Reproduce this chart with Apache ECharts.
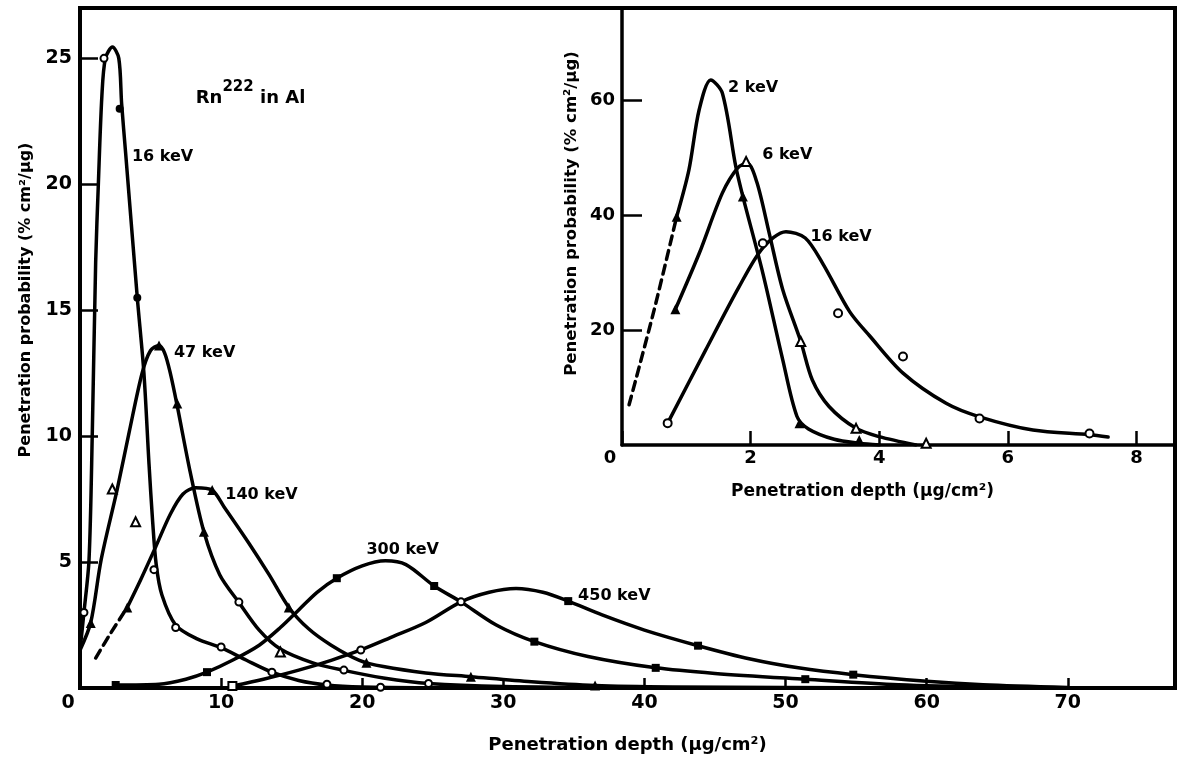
<!DOCTYPE html>
<html><head><meta charset="utf-8">
<script src="https://cdn.jsdelivr.net/npm/echarts@6/dist/echarts.min.js"></script>
<style>html,body{margin:0;padding:0;background:#fff}#c{width:1181px;height:768px}</style>
</head><body><div id="c"></div>
<script>
// ---------- MAIN PLOT (Rn222 in Al) : [depth µg/cm², probability %cm²/µg] ----------
const curve16 = [[0,1.5],[0.28,3.0],[0.64,5.1],[0.87,10.1],[1.11,16.9],[1.3,20.0],[1.55,23.5],[1.8,25.0],[2.3,25.45],[2.75,25.0],[2.95,23.2],[3.24,21.2],[4.06,15.5],[4.53,12.5],[4.89,8.9],[5.15,6.6],[5.4,4.9],[5.8,3.7],[6.78,2.5],[8.3,1.95],[10.0,1.6],[11.8,1.1],[13.6,0.63],[15.5,0.3],[17.5,0.12],[20,0.04],[25,0.01],[35,0]];
const curve47 = [[0,1.5],[0.76,2.6],[1.5,5.1],[2.64,7.9],[3.5,10.2],[4.4,12.5],[5.0,13.4],[5.6,13.6],[6.0,13.3],[6.4,12.5],[6.89,11.2],[7.8,8.6],[8.78,6.2],[9.9,4.5],[11.26,3.4],[12.7,2.3],[14.2,1.55],[16.5,1.0],[18.7,0.7],[21.5,0.4],[24.7,0.18],[30,0.06],[40,0.01],[50,0]];
const curve140Dashed = [[1.11,1.19],[2.2,2.2],[3.35,3.2]];
const curve140 = [[3.35,3.2],[4.3,4.3],[5.36,5.6],[6.4,6.9],[7.3,7.7],[8.2,7.95],[9.37,7.85],[10.2,7.2],[11.97,5.75],[13.4,4.5],[14.8,3.2],[16.2,2.35],[17.8,1.7],[19.8,1.1],[21.5,0.85],[24.5,0.6],[27.7,0.45],[32,0.25],[36.5,0.1],[42,0.04],[50,0.02],[60,0]];
const curve300 = [[2.53,0.12],[5.6,0.15],[7.5,0.35],[9.0,0.63],[10.8,1.1],[12.7,1.7],[14.2,2.4],[15.5,3.1],[16.8,3.8],[18.2,4.36],[20,4.85],[21.65,5.05],[23.1,4.9],[25.1,4.05],[27.0,3.42],[29.5,2.5],[32.2,1.84],[36,1.25],[40.8,0.8],[45,0.58],[51.4,0.35],[58,0.13],[65,0.03],[71,0]];
const curve450 = [[10.8,0.08],[13,0.35],[15.5,0.71],[17.8,1.1],[19.9,1.51],[22,2.0],[24.5,2.6],[27.0,3.42],[29,3.8],[30.9,3.95],[32.8,3.8],[34.6,3.45],[37,2.9],[40,2.3],[43.8,1.68],[47.5,1.15],[50.9,0.8],[54.8,0.53],[60,0.27],[64,0.13],[70,0.02]];

const mainFilledCircle = [[2.81,23.0],[4.06,15.5]];
const mainOpenCircle = [[0.28,3.0],[1.7,25.0],[5.24,4.7],[6.78,2.4],[10.0,1.63],[13.6,0.63],[17.5,0.15],[21.3,0.03],[11.26,3.41],[18.7,0.71],[24.7,0.18],[19.9,1.51],[27.0,3.42]];
const mainFilledTriangle = [[0.76,2.58],[5.6,13.6],[6.89,11.3],[8.78,6.2],[3.35,3.2],[9.37,7.86],[14.8,3.2],[20.3,1.0],[27.7,0.45],[36.5,0.1]];
const mainOpenTriangle = [[2.29,7.9],[3.94,6.6],[14.2,1.43]];
const mainFilledSquare = [[2.53,0.12],[9.0,0.63],[18.2,4.36],[25.1,4.05],[32.2,1.84],[40.8,0.8],[51.4,0.35],[34.6,3.45],[43.8,1.68],[54.8,0.53]];
const mainOpenSquare = [[10.8,0.08]];

const mainCurveLabels = [[3.68,21.1,'16 keV'],[6.66,13.3,'47 keV'],[10.3,7.66,'140 keV'],[20.3,5.48,'300 keV'],[35.3,3.65,'450 keV']];
const mainTitleLabel = [[8.2,23.6,'Rn|222|in Al']];

// ---------- INSET ----------
const inset2Dashed = [[0.11,7.0],[0.5,23.5],[0.85,39.7]];
const inset2 = [[0.85,39.7],[1.04,47.8],[1.2,58.3],[1.38,63.5],[1.56,61.2],[1.77,48.4],[1.88,43.2],[2.19,29.9],[2.5,14.8],[2.72,5.0],[2.9,2.8],[3.3,1.0],[3.69,0.3],[4.0,0]];
const inset6 = [[0.83,23.6],[1.2,33.3],[1.56,43.8],[1.8,48.2],[1.95,49.0],[2.1,45.6],[2.29,36.8],[2.5,27.0],[2.78,18.0],[2.96,11.3],[3.22,6.7],[3.64,2.9],[4.0,1.45],[4.57,0]];
const inset16 = [[0.71,3.8],[1.3,16.5],[1.82,27.5],[2.19,34.3],[2.55,37.1],[2.85,36.0],[3.12,31.6],[3.54,23.2],[3.85,19.0],[4.37,12.5],[5.04,7.25],[5.56,4.9],[6.39,2.6],[7.27,1.8],[7.56,1.4]];

const insetFilledTriangle = [[0.85,39.7],[1.88,43.2],[2.76,3.8],[3.69,0.87],[0.83,23.6]];
const insetOpenTriangle = [[1.93,49.3],[2.78,18.0],[3.64,2.9],[4.73,0.3]];
const insetOpenCircle = [[0.71,3.8],[2.19,35.1],[3.36,22.9],[4.37,15.4],[5.56,4.6],[7.27,2.0]];

const insetCurveLabels = [[1.65,62.1,'2 keV'],[2.18,50.4,'6 keV'],[2.93,36.2,'16 keV']];

const FONT = 'DejaVu Sans';
const BLACK = '#000';

function curve(data, axis, dashed) {
  return {
    type: 'line', data: data, xAxisIndex: axis, yAxisIndex: axis,
    showSymbol: false, smooth: 0.3, silent: true,
    lineStyle: { color: BLACK, width: 3.5, type: dashed ? [9, 6] : 'solid', cap: 'round', join: 'round' },
    z: 3
  };
}
function markers(data, axis, symbol, size) {
  const empty = symbol.indexOf('empty') === 0;
  return {
    type: 'scatter', data: data, xAxisIndex: axis, yAxisIndex: axis,
    symbol: symbol, symbolSize: size, silent: true,
    itemStyle: { color: BLACK, borderColor: BLACK, borderWidth: empty ? 2 : 0, opacity: 1 },
    z: 5
  };
}
function labels(list, axis, size) {
  return {
    type: 'scatter', xAxisIndex: axis, yAxisIndex: axis, symbolSize: 0, silent: true,
    itemStyle: { opacity: 1 },
    data: list.map(d => ({ value: [d[0], d[1]], name: d[2] })),
    label: { show: true, position: 'right', distance: 0, formatter: '{b}', opacity: 1, textBorderWidth: 0,
             fontFamily: FONT, fontWeight: 'bold', fontSize: size, color: BLACK },
    z: 6
  };
}
function zeroShift(v) { return v === 0 ? '{z|0}' : String(v); }

const tickLabel = (size) => ({ fontFamily: FONT, fontWeight: 'bold', fontSize: size, color: BLACK });
const nameStyle = (size, pad) => ({ fontFamily: FONT, fontWeight: 'bold', fontSize: size, color: BLACK, padding: pad });

const chart = echarts.init(document.getElementById('c'));
chart.setOption({
  animation: false,
  backgroundColor: '#fff',
  grid: [
    { left: 80, top: 8, right: 6, bottom: 80, show: true, borderColor: BLACK, borderWidth: 4, backgroundColor: 'transparent', outerBoundsMode: 'none', containLabel: false },
    { left: 622, top: 8, right: 6, bottom: 323, show: false, outerBoundsMode: 'none', containLabel: false }
  ],
  xAxis: [
    { gridIndex: 0, type: 'value', min: 0, max: 77.6, interval: 10,
      axisLine: { show: false }, splitLine: { show: false },
      axisTick: { show: true, inside: true, length: 10, lineStyle: { color: BLACK, width: 2.5 } },
      axisLabel: Object.assign(tickLabel(19), { margin: 6, showMaxLabel: false, formatter: zeroShift, rich: { z: { fontFamily: FONT, fontWeight: 'bold', fontSize: 19, color: BLACK, padding: [0, 24, 0, 0] } } }),
      name: 'Penetration depth (μg/cm²)', nameLocation: 'middle', nameGap: 48,
      nameTextStyle: nameStyle(18, [0, 0, 0, 0]) },
    { gridIndex: 1, type: 'value', min: 0, max: 8.6, interval: 2,
      axisLine: { show: true, lineStyle: { color: BLACK, width: 3.5 } }, splitLine: { show: false },
      axisTick: { show: true, inside: true, length: 14, lineStyle: { color: BLACK, width: 2.5 } },
      axisLabel: Object.assign(tickLabel(18), { margin: 4, showMaxLabel: false, formatter: zeroShift, rich: { z: { fontFamily: FONT, fontWeight: 'bold', fontSize: 18, color: BLACK, padding: [0, 24, 0, 0] } } }),
      name: 'Penetration depth (μg/cm²)', nameLocation: 'middle', nameGap: 38,
      nameTextStyle: nameStyle(17, [0, 72, 0, 0]) }
  ],
  yAxis: [
    { gridIndex: 0, type: 'value', min: 0, max: 27, interval: 5,
      axisLine: { show: false }, splitLine: { show: false },
      axisTick: { show: true, inside: true, length: 18, lineStyle: { color: BLACK, width: 2.5 } },
      axisLabel: Object.assign(tickLabel(19), { margin: 8, showMinLabel: false, showMaxLabel: false }),
      name: 'Penetration probability (% cm²/μg)', nameLocation: 'middle', nameRotate: 90, nameGap: 46,
      nameTextStyle: nameStyle(16, [0, 0, 0, 96]) },
    { gridIndex: 1, type: 'value', min: 0, max: 76, interval: 20,
      axisLine: { show: true, lineStyle: { color: BLACK, width: 3.5 } }, splitLine: { show: false },
      axisTick: { show: true, inside: true, length: 20, lineStyle: { color: BLACK, width: 2.5 } },
      axisLabel: Object.assign(tickLabel(18), { margin: 7, showMinLabel: false, showMaxLabel: false }),
      name: 'Penetration probability (% cm²/μg)', nameLocation: 'middle', nameRotate: 90, nameGap: 42,
      nameTextStyle: nameStyle(16.5, [0, 0, 0, 26]) }
  ],
  series: [
    curve(curve16, 0), curve(curve47, 0), curve(curve140Dashed, 0, true), curve(curve140, 0),
    curve(curve300, 0), curve(curve450, 0),
    markers(mainFilledCircle, 0, 'circle', 8),
    markers(mainOpenCircle, 0, 'emptyCircle', 7),
    markers(mainFilledTriangle, 0, 'triangle', 10),
    markers(mainOpenTriangle, 0, 'emptyTriangle', 9),
    markers(mainFilledSquare, 0, 'rect', 8),
    markers(mainOpenSquare, 0, 'emptyRect', 8),
    labels(mainCurveLabels, 0, 16),
    {
      type: 'scatter', xAxisIndex: 0, yAxisIndex: 0, symbolSize: 0, silent: true, z: 6,
      itemStyle: { opacity: 1 },
      data: mainTitleLabel.map(d => ({ value: [d[0], d[1]], name: d[2] })),
      label: { show: true, position: 'right', distance: 0, opacity: 1,
        formatter: p => { const s = p.name.split('|'); return '{n|' + s[0] + '}{s|' + s[1] + '}{n| ' + s[2] + '}'; },
        rich: {
          n: { fontFamily: FONT, fontWeight: 'bold', fontSize: 18, color: BLACK, verticalAlign: 'bottom', lineHeight: 28 },
          s: { fontFamily: FONT, fontWeight: 'bold', fontSize: 15, color: BLACK, verticalAlign: 'top', lineHeight: 28 }
        } }
    },
    curve(inset2Dashed, 1, true), curve(inset2, 1), curve(inset6, 1), curve(inset16, 1),
    markers(insetFilledTriangle, 1, 'triangle', 10),
    markers(insetOpenTriangle, 1, 'emptyTriangle', 9),
    markers(insetOpenCircle, 1, 'emptyCircle', 8),
    labels(insetCurveLabels, 1, 16)
  ]
});
</script></body></html>
